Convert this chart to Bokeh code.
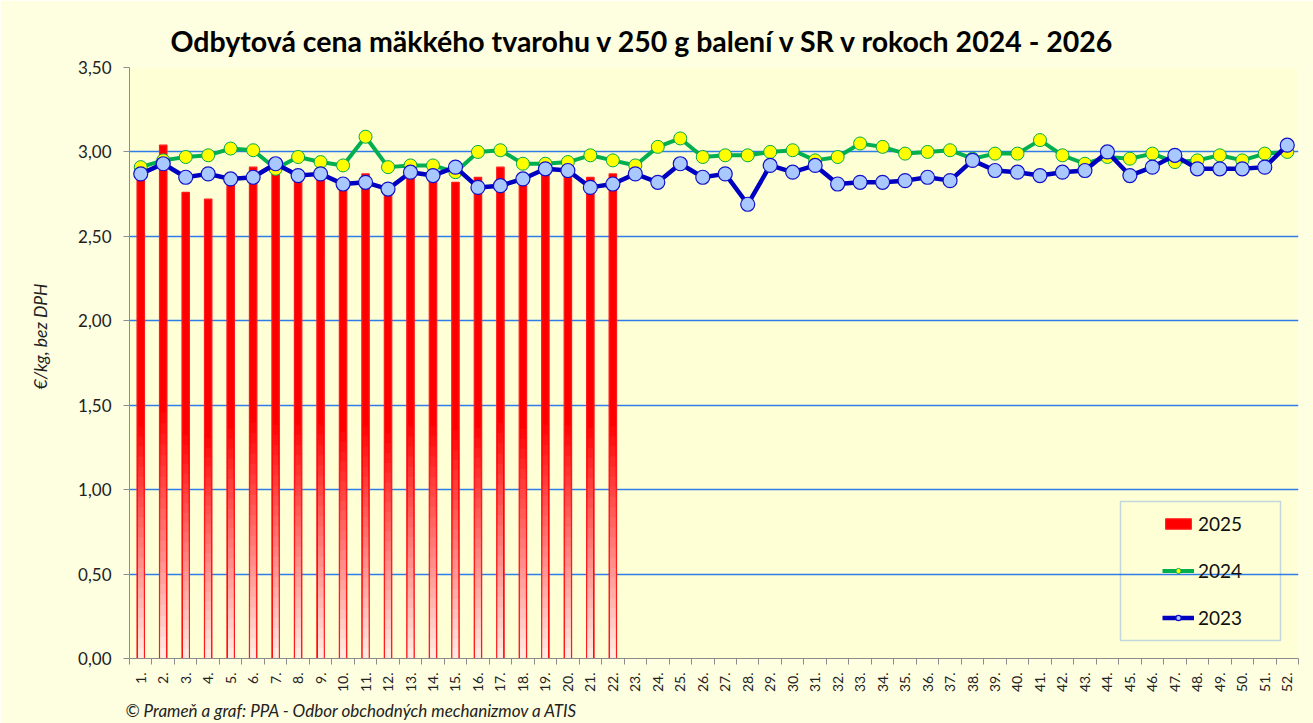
import numpy as np
from bokeh.plotting import figure
from bokeh.models import FixedTicker, Legend, LegendItem, Title, BoxAnnotation, Range1d
from bokeh.embed import file_html
from bokeh.resources import INLINE

# ---------------- data ----------------
weeks = list(range(1, 53))
week_labels = [f"{w}." for w in weeks]

y_ticks = [0.0, 0.5, 1.0, 1.5, 2.0, 2.5, 3.0, 3.5]
y_tick_labels = ["0,00", "0,50", "1,00", "1,50", "2,00", "2,50", "3,00", "3,50"]

weeks_2025 = list(range(1, 23))
v2025 = [2.87, 3.04, 2.76, 2.72, 2.84, 2.91, 2.89, 2.89, 2.89, 2.80, 2.87,
         2.78, 2.87, 2.87, 2.82, 2.85, 2.91, 2.84, 2.89, 2.88, 2.85, 2.87]

v2024 = [2.91, 2.95, 2.97, 2.98, 3.02, 3.01, 2.90, 2.97, 2.94, 2.92, 3.09,
         2.91, 2.92, 2.92, 2.88, 3.00, 3.01, 2.93, 2.93, 2.94, 2.98, 2.95,
         2.92, 3.03, 3.08, 2.97, 2.98, 2.98, 3.00, 3.01, 2.95, 2.97, 3.05,
         3.03, 2.99, 3.00, 3.01, 2.96, 2.99, 2.99, 3.07, 2.98, 2.93, 2.97,
         2.96, 2.99, 2.94, 2.95, 2.98, 2.95, 2.99, 3.00]

v2023 = [2.87, 2.93, 2.85, 2.87, 2.84, 2.85, 2.93, 2.86, 2.87, 2.81, 2.82,
         2.78, 2.88, 2.86, 2.91, 2.79, 2.80, 2.84, 2.90, 2.89, 2.79, 2.81,
         2.87, 2.82, 2.93, 2.85, 2.87, 2.69, 2.92, 2.88, 2.92, 2.81, 2.82,
         2.82, 2.83, 2.85, 2.83, 2.95, 2.89, 2.88, 2.86, 2.88, 2.89, 3.00,
         2.86, 2.91, 2.98, 2.90, 2.90, 2.90, 2.91, 3.04]

title_text = "Odbytová cena mäkkého tvarohu v 250 g balení v SR v rokoch 2024 - 2026"
footer_text = "© Prameň a graf: PPA - Odbor obchodných mechanizmov a ATIS"
y_label = "€/kg, bez DPH"

FONT = "Lato"

# ---------------- figure ----------------
p = figure(width=1313, height=723,
           x_range=Range1d(0.5, 52.5), y_range=Range1d(0, 3.5),
           output_backend="svg", toolbar_location=None,
           min_border_left=129, min_border_right=15, min_border_top=67, min_border_bottom=64,
           background_fill_color="#FFFFD6", border_fill_color="#FEFEE0",
           outline_line_color=None)

# bars 2025 (red, fading to pale toward the bottom)
bars = p.vbar(x=weeks_2025, top=v2025, width=0.33, fill_color="#FF0000",
              line_color="#FF1A1A", line_width=1.2)
n_seg = 24
frac_top = 0.5
pale = np.array([255, 244, 236])
red = np.array([255, 0, 0])
for k in range(n_seg, 0, -1):
    f1 = frac_top * k / n_seg
    t = k / n_seg
    c = pale * (1 - t) + red * t
    col = "#%02x%02x%02x" % tuple(int(round(v)) for v in c)
    p.vbar(x=weeks_2025, bottom=0, top=[v * f1 for v in v2025],
           width=0.23, fill_color=col, line_color=None)

# 2024 line
g_line = p.line(weeks, v2024, line_color="#00B050", line_width=4)
g_pts = p.scatter(weeks, v2024, size=13, fill_color="#FFFF00", line_color="#00A84A", line_width=1)

# 2023 line
b_line = p.line(weeks, v2023, line_color="#0000C0", line_width=4.5)
b_pts = p.scatter(weeks, v2023, size=14, fill_color="#A8C8FF", line_color="#1010C8", line_width=1.2)

# ---------------- axes ----------------
p.xaxis.ticker = FixedTicker(ticks=weeks, minor_ticks=[w + 0.5 for w in range(0, 53)])
p.xaxis.major_label_overrides = {w: lab for w, lab in zip(weeks, week_labels)}
p.xaxis.major_tick_line_color = None
p.xaxis.major_tick_out = 0
p.xaxis.major_tick_in = 0
p.xaxis.minor_tick_line_color = "#8C8C8C"
p.xaxis.minor_tick_out = 6
p.xaxis.minor_tick_in = 0
p.xaxis.major_label_orientation = np.pi / 2
p.xaxis.major_label_standoff = 8
p.xaxis.major_label_text_font = FONT
p.xaxis.major_label_text_font_size = "14px"
p.xaxis.major_label_text_color = "#222222"
p.xaxis.axis_line_color = "#8C8C8C"
p.xgrid.visible = False

p.yaxis.ticker = FixedTicker(ticks=y_ticks)
p.yaxis.major_label_overrides = dict(zip(y_ticks, y_tick_labels))
p.yaxis.minor_tick_line_color = None
p.yaxis.major_tick_out = 6
p.yaxis.major_tick_in = 0
p.yaxis.major_tick_line_color = "#8C8C8C"
p.yaxis.axis_line_color = "#8C8C8C"
p.yaxis.major_label_standoff = 12
p.yaxis.major_label_text_font = FONT
p.yaxis.major_label_text_font_size = "17px"
p.yaxis.major_label_text_color = "#222222"

p.ygrid.grid_line_color = "#2F7BE8"
p.ygrid.grid_line_width = 1.3

# y-axis title as a left-side title (sits a bit above the frame centre, like the original)
ytitle = Title(text=y_label, align="left", offset=269, standoff=49,
               text_font=FONT, text_font_size="17.5px", text_font_style="italic",
               text_color="#222222")
p.add_layout(ytitle, "left")

# ---------------- titles ----------------
title = Title(text=title_text, align="left", offset=41, standoff=20,
              text_font=FONT, text_font_size="28.5px", text_font_style="bold",
              text_color="#000000")
p.add_layout(title, "above")

footer = Title(text=footer_text, align="left", offset=-4, standoff=5,
               text_font=FONT, text_font_size="17px", text_font_style="italic",
               text_color="#222222")
p.add_layout(footer, "below")

# ---------------- legend ----------------
box = BoxAnnotation(left=991, right=1151, bottom=18, top=157,
                    left_units="screen", right_units="screen",
                    bottom_units="screen", top_units="screen",
                    fill_alpha=0, line_color="#2F7BE8", line_width=1.5)
p.add_layout(box)

legend = Legend(items=[LegendItem(label="2025", renderers=[bars]),
                       LegendItem(label="2024", renderers=[g_line, g_pts]),
                       LegendItem(label="2023", renderers=[b_line, b_pts])],
                location=(1033, 29), border_line_color=None, background_fill_alpha=0,
                padding=0, spacing=24, glyph_width=32, glyph_height=13, label_height=22,
                label_text_font=FONT, label_text_font_size="19px", label_standoff=4,
                label_text_color="#111111", margin=0)
p.add_layout(legend)

open("out.html", "w").write(file_html(p, INLINE))
